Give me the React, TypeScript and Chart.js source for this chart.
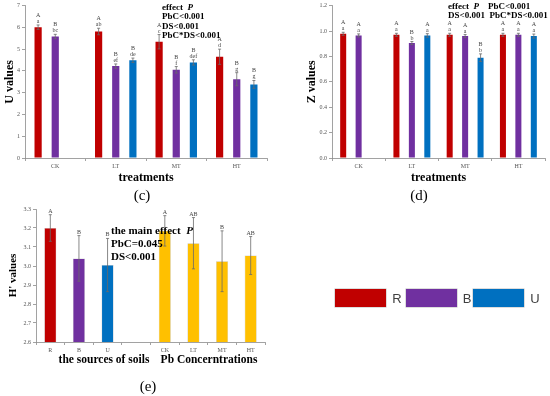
import React, { useEffect, useRef } from "react";
import { Chart, registerables } from "chart.js";
Chart.register(...registerables);

// ---------- data ----------
const treatments = ["CK", "LT", "MT", "HT"];

const uR = [6.01, 5.81, 5.34, 4.65];
const uB = [5.58, 4.22, 4.05, 3.62];
const uU = [null, 4.49, 4.39, 3.38];
const uRErr = [0.1, 0.15, 0.33, 0.35];
const uBErr = [0.1, 0.1, 0.15, 0.3];
const uUErr = [0, 0.1, 0.12, 0.18];
const uRUp = ["A", "A", "A", "A"];
const uRLo = ["a", "ab", "c", "d"];
const uBUp = ["B", "B", "B", "B"];
const uBLo = ["bc", "ef", "f", "g"];
const uUUp = ["", "B", "B", "B"];
const uULo = ["", "de", "def", "g"];

const zR = [0.978, 0.97, 0.97, 0.97];
const zB = [0.965, 0.905, 0.96, 0.97];
const zU = [null, 0.965, 0.79, 0.96];
const zRErr = [0.012, 0.012, 0.012, 0.012];
const zBErr = [0.012, 0.012, 0.012, 0.012];
const zUErr = [0, 0.014, 0.03, 0.016];
const zRUp = ["A", "A", "A", "A"];
const zRLo = ["a", "a", "a", "a"];
const zBUp = ["A", "B", "A", "A"];
const zBLo = ["a", "b", "a", "a"];
const zUUp = ["", "A", "B", "A"];
const zULo = ["", "a", "b", "a"];

const hCats = ["R", "B", "U", "", "CK", "LT", "MT", "HT"];
const hVals = [3.2, 3.04, 3.005, null, 3.185, 3.12, 3.025, 3.055];
const hErr = [0.07, 0.12, 0.14, 0, 0.08, 0.135, 0.16, 0.1];
const hUp = ["A", "B", "B", "", "A", "AB", "B", "AB"];

// ---------- styles ----------
const RED = "#C00000";
const PURPLE = "#7030A0";
const BLUE = "#0070C0";
const ORANGE = "#FFC000";
const AX = "#8a8a8a";
const TK = "#555555";
const SERIF = '"Liberation Serif", "Times New Roman", serif';
const SANS = '"Liberation Sans", Arial, sans-serif';

function makeErr(errors: number[][], upper: string[][], lower: string[][] | null) {
  return {
    id: "errbars",
    afterDatasetsDraw(chart: any) {
      const { ctx } = chart;
      const y = chart.scales.y;
      chart.data.datasets.forEach((ds: any, di: number) => {
        const meta = chart.getDatasetMeta(di);
        meta.data.forEach((bar: any, i: number) => {
          const v = ds.data[i];
          if (v == null) return;
          const e = errors[di][i];
          const yt = y.getPixelForValue(v + e);
          const yb = y.getPixelForValue(v - e);
          ctx.save();
          ctx.strokeStyle = "#6a6a6a";
          ctx.lineWidth = 0.8;
          ctx.beginPath();
          ctx.moveTo(bar.x, yt);
          ctx.lineTo(bar.x, yb);
          ctx.moveTo(bar.x - 1.5, yt);
          ctx.lineTo(bar.x + 1.5, yt);
          ctx.moveTo(bar.x - 1.5, yb);
          ctx.lineTo(bar.x + 1.5, yb);
          ctx.stroke();
          ctx.fillStyle = "#444";
          ctx.font = `6px ${SERIF}`;
          ctx.textAlign = "center";
          ctx.textBaseline = "alphabetic";
          let ty = yt - 2;
          const lo = lower ? lower[di][i] : "";
          if (lo) {
            ctx.fillText(lo, bar.x, ty);
            ty -= 6;
          }
          const up = upper[di][i];
          if (up) ctx.fillText(up, bar.x, ty);
          ctx.restore();
        });
      });
    },
  };
}

function axisCommon() {
  return {
    grid: { drawOnChartArea: false, tickLength: 3, color: AX, lineWidth: 0.8 },
    border: { color: AX, width: 0.8 },
  };
}

function cfgC() {
  return {
    type: "bar",
    data: {
      labels: treatments,
      datasets: [
        { label: "R", data: uR, backgroundColor: RED },
        { label: "B", data: uB, backgroundColor: PURPLE },
        { label: "U", data: uU, backgroundColor: BLUE },
      ],
    },
    options: {
      animation: false,
      responsive: false,
      layout: { padding: { left: 0, top: 5, right: 8, bottom: 0 } },
      plugins: { legend: { display: false }, tooltip: { enabled: false } },
      datasets: { bar: { categoryPercentage: 0.85, barPercentage: 0.42 } },
      scales: {
        x: {
          ...axisCommon(),
          ticks: { font: { family: SERIF, size: 6 }, color: TK, padding: 2 },
          title: {
            display: true,
            text: "treatments",
            font: { family: SERIF, size: 12, weight: "bold" },
            color: "#000",
            padding: { top: 0, bottom: 2 },
          },
          afterFit: (s: any) => {
            s.height = 29;
          },
        },
        y: {
          ...axisCommon(),
          min: 0,
          max: 7,
          ticks: { stepSize: 1, font: { family: SERIF, size: 6 }, color: TK, padding: 2 },
          title: {
            display: true,
            text: "U values",
            font: { family: SERIF, size: 12, weight: "bold" },
            color: "#000",
            padding: { top: 3, bottom: 0 },
          },
          afterFit: (s: any) => {
            s.width = 25;
          },
        },
      },
    },
    plugins: [makeErr([uRErr, uBErr, uUErr], [uRUp, uBUp, uUUp], [uRLo, uBLo, uULo])],
  };
}

function cfgD() {
  return {
    type: "bar",
    data: {
      labels: treatments,
      datasets: [
        { label: "R", data: zR, backgroundColor: RED },
        { label: "B", data: zB, backgroundColor: PURPLE },
        { label: "U", data: zU, backgroundColor: BLUE },
      ],
    },
    options: {
      animation: false,
      responsive: false,
      layout: { padding: { left: 30, top: 5, right: 5, bottom: 0 } },
      plugins: { legend: { display: false }, tooltip: { enabled: false } },
      datasets: { bar: { categoryPercentage: 0.87, barPercentage: 0.39 } },
      scales: {
        x: {
          ...axisCommon(),
          ticks: { font: { family: SERIF, size: 6 }, color: TK, padding: 2 },
          title: {
            display: true,
            text: "treatments",
            font: { family: SERIF, size: 12, weight: "bold" },
            color: "#000",
            padding: { top: 0, bottom: 2 },
          },
          afterFit: (s: any) => {
            s.height = 29;
          },
        },
        y: {
          ...axisCommon(),
          min: 0,
          max: 1.2,
          ticks: {
            stepSize: 0.2,
            font: { family: SERIF, size: 6 },
            color: TK,
            padding: 2,
            callback: (v: any) => Number(v).toFixed(1),
          },
          title: {
            display: true,
            text: "Z values",
            font: { family: SERIF, size: 12, weight: "bold" },
            color: "#000",
            padding: { top: 0, bottom: 0 },
          },
          afterFit: (s: any) => {
            s.width = 27;
          },
        },
      },
    },
    plugins: [makeErr([zRErr, zBErr, zUErr], [zRUp, zBUp, zUUp], [zRLo, zBLo, zULo])],
  };
}

function cfgE() {
  const colors = [RED, PURPLE, BLUE, ORANGE, ORANGE, ORANGE, ORANGE, ORANGE];
  return {
    type: "bar",
    data: {
      labels: hCats,
      datasets: [
        {
          label: "H'",
          data: hVals,
          backgroundColor: colors,
          borderColor: "rgba(120,120,120,0.5)",
          borderWidth: 0.5,
        },
      ],
    },
    options: {
      animation: false,
      responsive: false,
      layout: { padding: { left: 4, top: 9, right: 10, bottom: 0 } },
      plugins: { legend: { display: false }, tooltip: { enabled: false } },
      datasets: { bar: { categoryPercentage: 1, barPercentage: 0.42 } },
      scales: {
        x: {
          ...axisCommon(),
          ticks: { font: { family: SERIF, size: 6 }, color: TK, padding: 2 },
          afterFit: (s: any) => {
            s.height = 13;
          },
        },
        y: {
          ...axisCommon(),
          min: 2.6,
          max: 3.3,
          ticks: {
            stepSize: 0.1,
            font: { family: SERIF, size: 6 },
            color: TK,
            padding: 2,
            callback: (v: any) => Number(v).toFixed(1),
          },
          title: {
            display: true,
            text: "H' values",
            font: { family: SERIF, size: 11, weight: "bold" },
            color: "#000",
            padding: { top: 3, bottom: 0 },
          },
          afterFit: (s: any) => {
            s.width = 32;
          },
        },
      },
    },
    plugins: [makeErr([hErr], [hUp], null)],
  };
}

function ChartBox({ left, top, w, h, make }: any) {
  const ref = useRef<HTMLCanvasElement | null>(null);
  useEffect(() => {
    const chart = new Chart(ref.current as any, make() as any);
    return () => chart.destroy();
  }, []);
  return (
    <canvas
      ref={ref}
      width={w}
      height={h}
      style={{ position: "absolute", left, top, width: w, height: h }}
    />
  );
}

const txt = (extra: any) => ({
  position: "absolute" as const,
  fontFamily: SERIF,
  color: "#000",
  whiteSpace: "nowrap" as const,
  lineHeight: 1,
  ...extra,
});

export default function App() {
  return (
    <div
      style={{
        position: "fixed",
        left: 0,
        top: 0,
        width: 550,
        height: 396,
        background: "#fff",
        overflow: "hidden",
      }}
    >
      <ChartBox left={0} top={0} w={275} h={187} make={cfgC} />
      <ChartBox left={275} top={0} w={275} h={187} make={cfgD} />
      <ChartBox left={0} top={200} w={275} h={155} make={cfgE} />

      {/* (c) annotation */}
      <div style={txt({ left: 162, top: 3, fontSize: 9, fontWeight: "bold", lineHeight: "9.3px" })}>
        <div>
          effect&nbsp;&nbsp;<i>P</i>
        </div>
        <div>PbC&lt;0.001</div>
        <div>DS&lt;0.001</div>
        <div>PbC*DS&lt;0.001</div>
      </div>
      {/* (d) annotation */}
      <div style={txt({ left: 448, top: 2, fontSize: 9, fontWeight: "bold", lineHeight: "9.3px" })}>
        <div>
          effect&nbsp;&nbsp;<i>P</i>&nbsp;&nbsp;&nbsp;&nbsp;PbC&lt;0.001
        </div>
        <div>DS&lt;0.001&nbsp;&nbsp;PbC*DS&lt;0.001</div>
      </div>
      {/* (e) annotation */}
      <div style={txt({ left: 111, top: 224, fontSize: 11, fontWeight: "bold", lineHeight: "13px" })}>
        <div>
          the main effect&nbsp;&nbsp;<i>P</i>
        </div>
        <div>PbC=0.045</div>
        <div>DS&lt;0.001</div>
      </div>

      {/* (e) x titles */}
      <div style={txt({ left: 104, top: 360, fontSize: 11.5, fontWeight: "bold", transform: "translate(-50%,-50%)" })}>
        the sources of soils
      </div>
      <div style={txt({ left: 209, top: 360, fontSize: 11.5, fontWeight: "bold", transform: "translate(-50%,-50%)" })}>
        Pb Concerntrations
      </div>

      {/* sub-figure labels */}
      <div style={txt({ left: 142, top: 195, fontSize: 15, transform: "translate(-50%,-50%)" })}>(c)</div>
      <div style={txt({ left: 419, top: 195, fontSize: 15, transform: "translate(-50%,-50%)" })}>(d)</div>
      <div style={txt({ left: 148, top: 386, fontSize: 15, transform: "translate(-50%,-50%)" })}>(e)</div>

      {/* legend */}
      {[
        { c: RED, l: "R", x: 335, tx: 397 },
        { c: PURPLE, l: "B", x: 406, tx: 467 },
        { c: BLUE, l: "U", x: 473, tx: 535 },
      ].map((it) => (
        <React.Fragment key={it.l}>
          <div
            style={{
              position: "absolute",
              left: it.x,
              top: 289,
              width: 51,
              height: 18,
              background: it.c,
              boxShadow: "0 0 0 0.5px #bbb",
            }}
          />
          <div
            style={{
              position: "absolute",
              left: it.tx,
              top: 298,
              transform: "translate(-50%,-50%)",
              fontFamily: SANS,
              fontSize: 13,
              color: "#404040",
              lineHeight: 1,
            }}
          >
            {it.l}
          </div>
        </React.Fragment>
      ))}
    </div>
  );
}
